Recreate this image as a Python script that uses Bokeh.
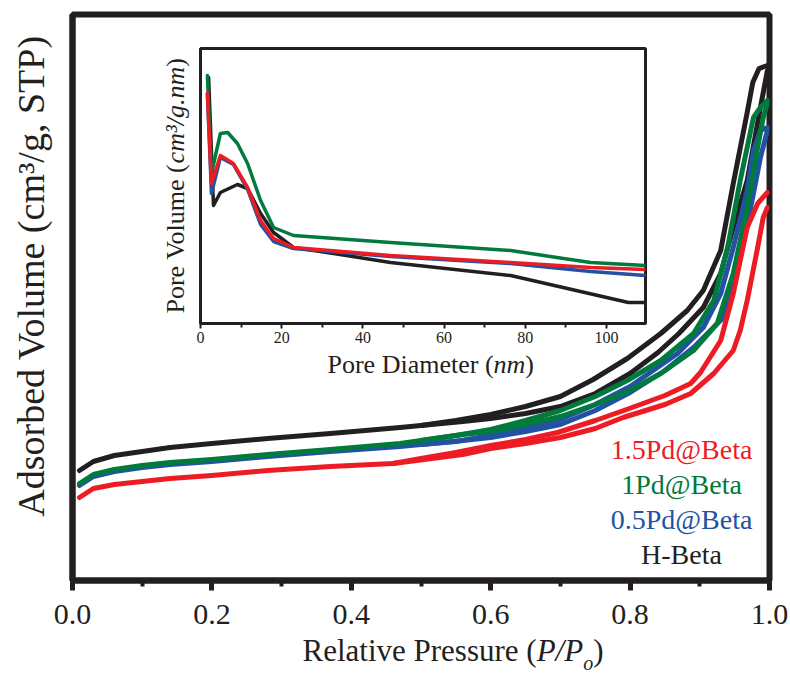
from bokeh.plotting import figure
from bokeh.models import Range1d, FixedTicker, Label
from bokeh.layouts import column
from bokeh.embed import file_html
from bokeh.resources import INLINE

# ---------------- data ----------------
# Main panel: N2 isotherms, relative pressure P/Po vs adsorbed volume (arbitrary units)
pp_ticks = [0.0, 0.2, 0.4, 0.6, 0.8, 1.0]
pp_tick_labels = ["0.0", "0.2", "0.4", "0.6", "0.8", "1.0"]
pp_minor_ticks = [0.1, 0.3, 0.5, 0.7, 0.9]

hbeta_ads_p = [0.01, 0.03, 0.06, 0.10, 0.14, 0.20, 0.28, 0.37, 0.47, 0.56, 0.60, 0.65, 0.70, 0.75, 0.80, 0.84, 0.87, 0.905, 0.93, 0.948, 0.968, 0.987, 0.997]
hbeta_ads_v = [110, 119, 125, 129, 133, 137, 142, 147, 153, 159, 162, 167, 174, 187, 207, 228, 247, 273, 307, 353, 400, 473, 510]
hbeta_des_p = [0.997, 0.985, 0.976, 0.968, 0.948, 0.93, 0.905, 0.882, 0.844, 0.796, 0.747, 0.70, 0.65, 0.60, 0.55, 0.50]
hbeta_des_v = [515, 512, 498, 468, 397, 330, 290, 270, 247, 222, 201, 184, 174, 166, 160, 155]

pd05_ads_p = [0.01, 0.03, 0.06, 0.10, 0.14, 0.20, 0.28, 0.37, 0.47, 0.56, 0.60, 0.65, 0.70, 0.75, 0.80, 0.85, 0.891, 0.934, 0.954, 0.973, 0.987, 0.997]
pd05_ads_v = [95, 104, 109, 113, 116, 119, 124, 129, 134, 140, 143, 149, 156, 170, 188, 210, 233, 263, 313, 373, 423, 450]
pd05_des_p = [0.997, 0.987, 0.977, 0.968, 0.948, 0.930, 0.905, 0.868, 0.80, 0.75, 0.70, 0.65, 0.60, 0.55, 0.50]
pd05_des_v = [453, 450, 430, 390, 333, 287, 253, 227, 194, 176, 161, 152, 145, 139, 136]

pd1_ads_p = [0.01, 0.03, 0.06, 0.10, 0.14, 0.20, 0.28, 0.37, 0.47, 0.56, 0.60, 0.65, 0.70, 0.75, 0.80, 0.844, 0.891, 0.925, 0.948, 0.968, 0.983, 0.991, 0.997]
pd1_ads_v = [97, 106, 111, 115, 118, 121, 126, 131, 137, 146, 149, 156, 164, 176, 190, 207, 230, 257, 307, 373, 433, 463, 477]
pd1_des_p = [0.997, 0.987, 0.977, 0.958, 0.94, 0.92, 0.891, 0.844, 0.796, 0.75, 0.70, 0.65, 0.60, 0.55, 0.50]
pd1_des_v = [480, 473, 463, 400, 333, 280, 247, 220, 200, 184, 170, 160, 151, 145, 140]

pd15_ads_p = [0.01, 0.03, 0.06, 0.10, 0.14, 0.20, 0.28, 0.37, 0.46, 0.56, 0.60, 0.65, 0.70, 0.75, 0.79, 0.85, 0.887, 0.92, 0.948, 0.958, 0.968, 0.983, 0.991, 0.997]
pd15_ads_v = [83, 92, 96, 99, 102, 105, 110, 114, 117, 126, 132, 137, 143, 152, 163, 176, 187, 207, 230, 250, 280, 333, 363, 373]
pd15_des_p = [0.997, 0.983, 0.968, 0.948, 0.930, 0.901, 0.887, 0.85, 0.791, 0.75, 0.696, 0.65, 0.60, 0.55, 0.50, 0.46]
pd15_des_v = [388, 377, 353, 287, 240, 208, 197, 185, 170, 160, 148, 141, 135, 128, 122, 117]

# Inset: pore size distribution, pore diameter (nm) vs pore volume (arbitrary units)
d_ticks = [0, 20, 40, 60, 80, 100]
d_tick_labels = ["0", "20", "40", "60", "80", "100"]
d_minor_ticks = [10, 30, 50, 70, 90]

hbeta_psd_d = [2.0, 3.2, 4.9, 9.1, 11.6, 14.8, 18.0, 22.9, 32.8, 46.8, 76.4, 105.4, 109.6]
hbeta_psd_v = [246, 118, 131, 139, 135, 110, 91, 76, 70, 61, 48, 21, 21]
pd05_psd_d = [1.7, 2.7, 4.9, 8.1, 11.6, 14.8, 18.0, 22.9, 46.8, 76.4, 96.1, 109.6]
pd05_psd_v = [230, 130, 166, 159, 134, 99, 82, 75, 67, 60, 52, 48]
pd1_psd_d = [1.7, 2.7, 4.9, 6.7, 9.1, 11.6, 14.8, 18.0, 22.9, 46.8, 76.4, 89.4, 96.1, 109.6]
pd1_psd_v = [248, 150, 190, 191, 180, 160, 123, 96, 88, 81, 73, 65, 61, 58]
pd15_psd_d = [1.7, 2.7, 4.9, 8.1, 11.6, 14.8, 18.0, 22.9, 46.8, 76.4, 96.1, 109.6]
pd15_psd_v = [230, 140, 168, 160, 136, 103, 85, 76, 68, 61, 56, 54]

legend_names = ["1.5Pd@Beta", "1Pd@Beta", "0.5Pd@Beta", "H-Beta"]

# ---------------- styles ----------------
INK = "#231F20"
RED = "#ED1C24"
GREEN = "#007A3D"
BLUE = "#2152A3"
legend_colors = [RED, GREEN, BLUE, INK]
FONT = "Liberation Serif"
BASE_FIX = 0.32  # em: lift applied to alphabetic baselines of labels

# Times / Liberation Serif advance widths (per 1000 em)
ROMAN_W = {' ': 250, '(': 333, ')': 333, '/': 278, ',': 250, '.': 250, 'R': 667, 'e': 444, 'l': 278,
           'a': 444, 't': 278, 'i': 278, 'v': 500, 'P': 556, 'r': 333, 's': 389, 'u': 500, 'o': 500,
           'V': 722, 'm': 778, 'D': 722, 'n': 500, 'c': 444, 'g': 500}
ITALIC_W = {'P': 611, '/': 278, 'n': 500, 'm': 722, 'c': 444, 'g': 500, '.': 250, '\u00b3': 300, 'o': 500}


def text_width(s, size, italic):
    table = ITALIC_W if italic else ROMAN_W
    return sum(table[ch] for ch in s) * size / 1000.0


def no_align(fig):
    if "frame_align" in fig.properties():
        fig.frame_align = False


# ---------------- main figure ----------------
p = figure(width=790, height=677, x_range=Range1d(0, 1), y_range=Range1d(0, 566),
           output_backend="svg", toolbar_location=None,
           min_border_left=72, min_border_right=21, min_border_top=14, min_border_bottom=97)
no_align(p)
p.background_fill_color = "white"
p.border_fill_color = "white"
p.outline_line_color = INK
p.outline_line_width = 6
p.xgrid.visible = False
p.ygrid.visible = False

p.xaxis.ticker = FixedTicker(ticks=pp_ticks, minor_ticks=pp_minor_ticks)
p.xaxis.major_label_overrides = dict(zip(pp_ticks, pp_tick_labels))
p.xaxis.axis_line_color = INK
p.xaxis.axis_line_width = 6
p.xaxis.major_tick_line_color = INK
p.xaxis.major_tick_line_width = 5
p.xaxis.major_tick_in = 0
p.xaxis.major_tick_out = 10
p.xaxis.minor_tick_line_color = INK
p.xaxis.minor_tick_line_width = 4
p.xaxis.minor_tick_in = 0
p.xaxis.minor_tick_out = 6
p.xaxis.major_label_standoff = 14
p.xaxis.major_label_text_font = FONT
p.xaxis.major_label_text_font_size = "30px"
p.xaxis.major_label_text_color = INK

p.yaxis.ticker = FixedTicker(ticks=[])
p.yaxis.axis_line_color = INK
p.yaxis.axis_line_width = 6
p.yaxis.major_tick_out = 0
p.yaxis.minor_tick_out = 0

main_series = [
    (hbeta_ads_p, hbeta_ads_v, hbeta_des_p, hbeta_des_v, INK),
    (pd05_ads_p, pd05_ads_v, pd05_des_p, pd05_des_v, BLUE),
    (pd1_ads_p, pd1_ads_v, pd1_des_p, pd1_des_v, GREEN),
    (pd15_ads_p, pd15_ads_v, pd15_des_p, pd15_des_v, RED),
]
for ap, av, dp, dv, col in main_series:
    p.line(ap, av, line_color=col, line_width=5, line_join="round", line_cap="round")
    p.line(dp, dv, line_color=col, line_width=5, line_join="round", line_cap="round")

# legend as coloured text
for i, (name, col) in enumerate(zip(legend_names, legend_colors)):
    p.add_layout(Label(x=0, y=0, x_offset=609, y_offset=122 - 35 * i + BASE_FIX * 28, text=name,
                       text_font=FONT, text_font_size="28px", text_color=col,
                       text_align="center", text_baseline="alphabetic"))

# ---------------- inset figure ----------------
q = figure(width=507, height=347, x_range=Range1d(0, 109.6), y_range=Range1d(0, 275),
           output_backend="svg", toolbar_location=None,
           min_border_left=50, min_border_right=12, min_border_top=10, min_border_bottom=62)
no_align(q)
q.border_fill_alpha = 0
q.background_fill_color = "white"
q.outline_line_color = INK
q.outline_line_width = 3
q.xgrid.visible = False
q.ygrid.visible = False
q.yaxis.visible = False

q.xaxis.ticker = FixedTicker(ticks=d_ticks, minor_ticks=d_minor_ticks)
q.xaxis.major_label_overrides = dict(zip(d_ticks, d_tick_labels))
q.xaxis.axis_line_color = INK
q.xaxis.axis_line_width = 3
q.xaxis.major_tick_line_color = INK
q.xaxis.major_tick_line_width = 2
q.xaxis.major_tick_in = 0
q.xaxis.major_tick_out = 5
q.xaxis.minor_tick_line_color = INK
q.xaxis.minor_tick_line_width = 2
q.xaxis.minor_tick_in = 0
q.xaxis.minor_tick_out = 4
q.xaxis.major_label_standoff = 3
q.xaxis.major_label_text_font = FONT
q.xaxis.major_label_text_font_size = "16px"
q.xaxis.major_label_text_color = INK

inset_series = [
    (hbeta_psd_d, hbeta_psd_v, INK),
    (pd05_psd_d, pd05_psd_v, BLUE),
    (pd1_psd_d, pd1_psd_v, GREEN),
    (pd15_psd_d, pd15_psd_v, RED),
]
for d, v, col in inset_series:
    q.line(d, v, line_color=col, line_width=3.5, line_join="round", line_cap="round")

q.margin = (38 - 677, 0, 677 - (38 + 347), 150)

# ---------------- transparent text overlay (pixel coordinates, top-left origin) ----------------
r = figure(width=790, height=677, x_range=Range1d(0, 790), y_range=Range1d(677, 0),
           output_backend="svg", toolbar_location=None,
           min_border_left=0, min_border_right=0, min_border_top=0, min_border_bottom=0)
no_align(r)
r.xaxis.visible = False
r.yaxis.visible = False
r.xgrid.visible = False
r.ygrid.visible = False
r.outline_line_color = None
r.background_fill_alpha = 0
r.border_fill_alpha = 0
r.margin = (-677, 0, 0, 0)


def add_run(fig, pieces, x0, y0, vertical=False):
    """pieces: (text, font px, italic, baseline shift px downward, kerning px). x0, y0: baseline start."""
    pos = 0.0
    for text, size, italic, shift, kern in pieces:
        pos += kern
        lift = BASE_FIX * size
        if vertical:
            x, y, ang = x0 + shift - lift, y0 - pos, 1.5707963267948966
        else:
            x, y, ang = x0 + pos, y0 + shift - lift, 0.0
        fig.add_layout(Label(x=x, y=y, text=text, angle=ang, text_font=FONT,
                             text_font_style="italic" if italic else "normal",
                             text_font_size=f"{size}px", text_color=INK,
                             text_align="left", text_baseline="alphabetic"))
        pos += text_width(text, size, italic)


# main x title:  Relative Pressure (P/Po)
add_run(r, [("Relative Pressure (", 31, False, 0, 0),
            ("P/P", 31, True, 0, 0),
            ("o", 20, True, 9, 0),
            (")", 31, False, 0, 0)], x0=302, y0=660)
# main y title
r.add_layout(Label(x=43 - BASE_FIX * 38, y=275.5, text="Adsorbed Volume (cm\u00b3/g, STP)",
                   angle=1.5707963267948966, text_font=FONT, text_font_size="38px",
                   text_color=INK, text_align="center", text_baseline="alphabetic"))
# inset titles
add_run(r, [("Pore Diameter (", 26, False, 0, 0),
            ("nm", 26, True, 0, 0),
            (")", 26, False, 0, 0)], x0=327, y0=372)
add_run(r, [("Pore Volume (", 26, False, 0, 0),
            ("cm\u00b3/g.nm", 26, True, 0, -3),
            (")", 26, False, 0, 0)], x0=183, y0=313, vertical=True)

layout = column(p, q, r)
open("out.html", "w").write(file_html(layout, INLINE))
